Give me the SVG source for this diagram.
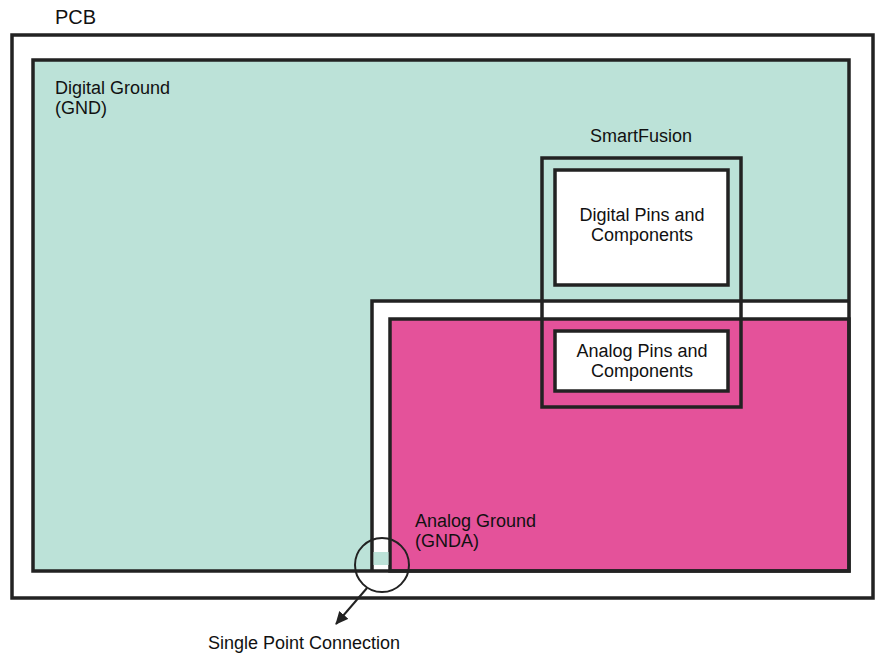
<svg xmlns="http://www.w3.org/2000/svg" width="881" height="657" viewBox="0 0 881 657">
<defs><marker id="ah" markerWidth="14" markerHeight="12" refX="12" refY="6" orient="auto" markerUnits="userSpaceOnUse"><path d="M0,0 L13,6 L0,12 z" fill="#222"/></marker></defs>
<style>text{font-family:"Liberation Sans",Arial,sans-serif;font-size:18px;fill:#111}.s{stroke:#222;stroke-width:3.5;fill:none}</style>
<rect width="881" height="657" fill="#fff"/>
<g id="pcb"><rect x="12" y="35" width="861" height="563" class="s"/><text x="55" y="24" style="font-size:20px">PCB</text></g>
<g id="gnd"><rect x="33" y="60" width="816" height="511" fill="#bce2d8"/>
<text x="55" y="94">Digital Ground</text><text x="55" y="114">(GND)</text></g>
<g id="gnda"><rect x="372" y="301" width="477" height="270" fill="#fff"/>
<path d="M372,571 V301 H849" class="s"/>
<rect x="390" y="319" width="459" height="252" fill="#e4529a" stroke="#222" stroke-width="3.5"/>
<rect x="373.5" y="552" width="15" height="13" fill="#bce2d8"/>
<text x="415" y="527">Analog Ground</text><text x="415" y="547">(GNDA)</text></g>
<rect x="33" y="60" width="816" height="511" class="s"/>
<g id="smartfusion"><rect x="542" y="158" width="199" height="249" class="s"/><text x="641" y="142" text-anchor="middle">SmartFusion</text></g>
<g id="digital"><rect x="555" y="170" width="173" height="115" fill="#fff" stroke="#222" stroke-width="3.5"/>
<text x="642" y="221" text-anchor="middle">Digital Pins and</text><text x="642" y="241" text-anchor="middle">Components</text></g>
<g id="analog"><rect x="555" y="331" width="173" height="60" fill="#fff" stroke="#222" stroke-width="3.5"/>
<text x="642" y="357" text-anchor="middle">Analog Pins and</text><text x="642" y="377" text-anchor="middle">Components</text></g>
<g id="connectors"><circle cx="382" cy="565" r="27" fill="none" stroke="#222" stroke-width="2"/>
<line x1="367" y1="588" x2="336" y2="624" stroke="#222" stroke-width="2" marker-end="url(#ah)"/></g>
<text x="304" y="649" text-anchor="middle">Single Point Connection</text>
</svg>
